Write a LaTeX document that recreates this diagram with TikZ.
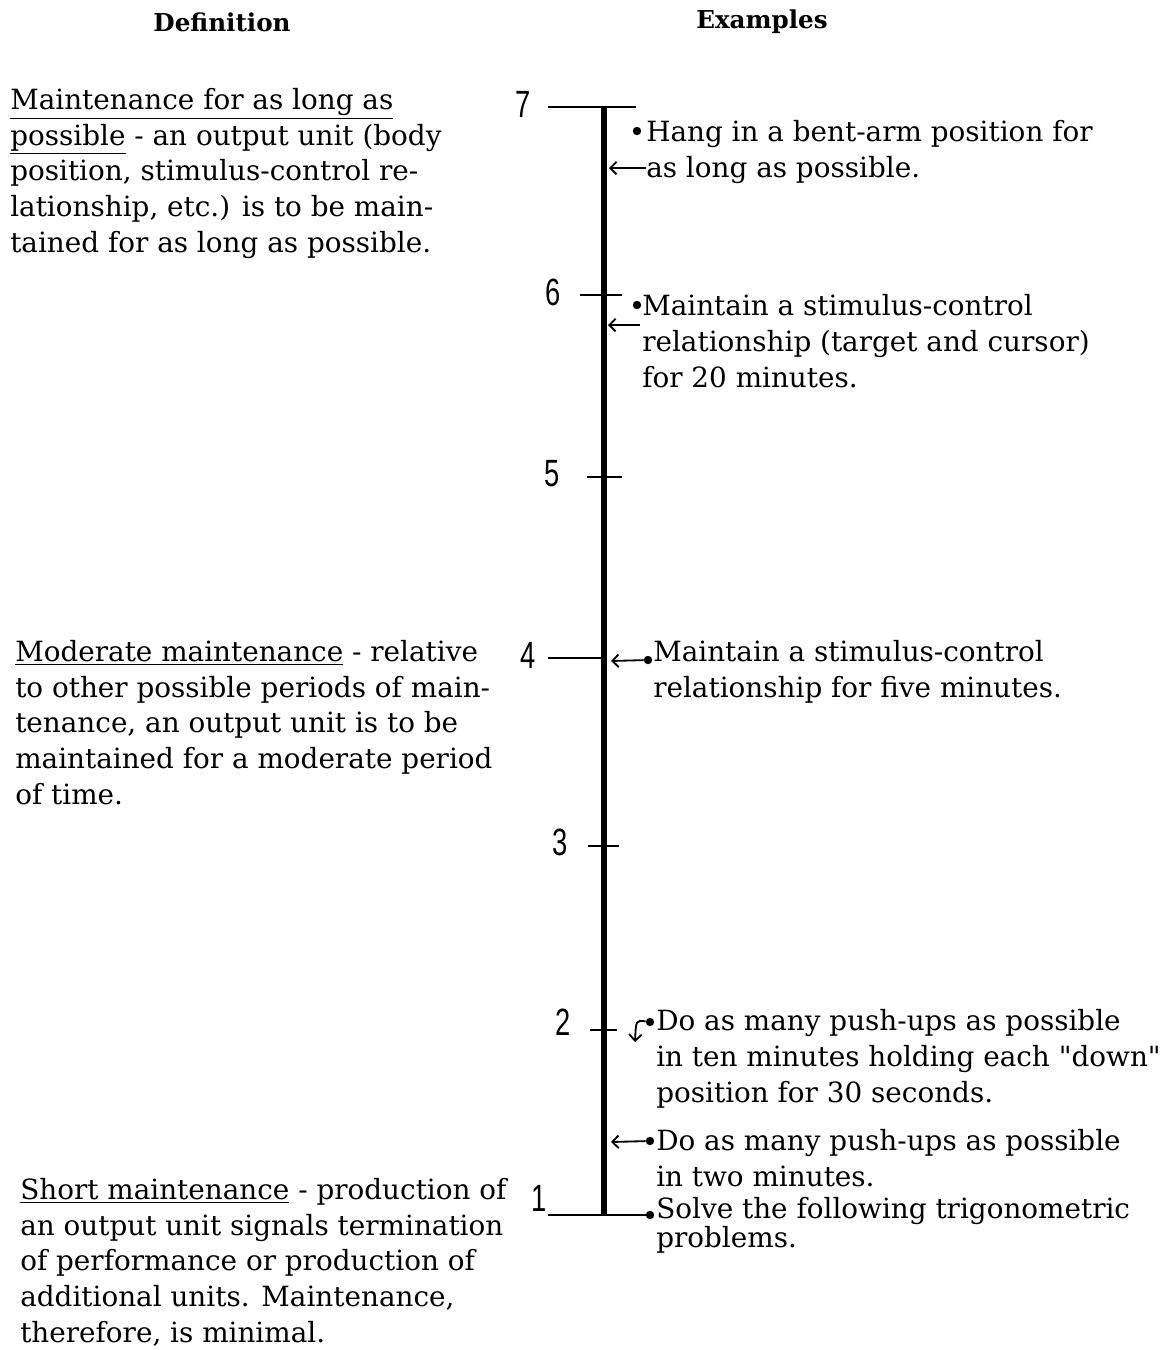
\documentclass[tikz,border=0pt]{standalone}
\usepackage{fontspec}
\setmainfont{DejaVu Serif}
\newfontfamily\numfont{Liberation Sans}
\usepackage{graphicx}
\usepackage{tikz}
\usetikzlibrary{arrows.meta}

\newcommand{\scalenum}[1]{\scalebox{0.72}[1]{\numfont\fontsize{27}{27}\selectfont #1}}
\newcommand{\dquote}{\XeTeXglyph\XeTeXcharglyph34\relax}

\begin{document}
\begin{tikzpicture}[x=0.025cm,y=-0.025cm,
  % base anchor of a multi-line node = baseline of its last line
  txt/.style={anchor=base west,inner sep=0pt,align=left,font=\fontsize{19.8}{25.3}\selectfont},
  tighttxt/.style={txt,font=\fontsize{19.8}{17.8}\selectfont},
  head/.style={inner sep=0pt,font=\fontsize{17.5}{17.5}\selectfont\bfseries},
  num/.style={inner sep=0pt},
  dot/.style={circle,fill=black,inner sep=0pt,minimum size=0.21cm},
  axis/.style={line width=4.2pt},
  tick/.style={line width=1.3pt},
  pointer/.style={line width=1.3pt,-{Straight Barb[length=4.5pt,width=9pt]}}]
\useasboundingbox (0,0) rectangle (1176,1350);

% column heads
\node[head] (hdef) at (222,22) {Definition};
\node[head] (hex) at (762,22) {Examples};

% scale
\coordinate (ax7) at (604,107);
\coordinate (ax1) at (604,1215);
\draw[axis] (ax7) -- (ax1);

\coordinate (t7l) at (548,107);  \coordinate (t7r) at (636,107);
\coordinate (t6l) at (580,295);  \coordinate (t6r) at (622,295);
\coordinate (t5l) at (587,477);  \coordinate (t5r) at (622,477);
\coordinate (t4l) at (548,658);  \coordinate (t4r) at (604,658);
\coordinate (t3l) at (588,846);  \coordinate (t3r) at (619,846);
\coordinate (t2l) at (590,1030); \coordinate (t2r) at (617,1030);
\coordinate (t1l) at (548,1215);
\draw[tick] (t7l) -- (t7r);
\draw[tick] (t6l) -- (t6r);
\draw[tick] (t5l) -- (t5r);
\draw[tick] (t4l) -- (t4r);
\draw[tick] (t3l) -- (t3r);
\draw[tick] (t2l) -- (t2r);

\node[num] (n7) at (523,104) {\scalenum{7}};
\node[num] (n6) at (553,292) {\scalenum{6}};
\node[num] (n5) at (552,474) {\scalenum{5}};
\node[num] (n4) at (528,655) {\scalenum{4}};
\node[num] (n3) at (560,842) {\scalenum{3}};
\node[num] (n2) at (563,1022) {\scalenum{2}};
\node[num] (n1) at (539,1198) {\scalenum{1}};

% definitions
\node[txt] (def7) at (10,252) {\underline{Maintenance for as long as}\\
  \underline{possible} - an output unit (body\\
  position, stimulus-control re-\\
  lationship, etc.) is to be main-\\
  tained for as long as possible.};
\node[txt] (def4) at (15,804) {\underline{Moderate maintenance} - relative\\
  to other possible periods of main-\\
  tenance, an output unit is to be\\
  maintained for a moderate period\\
  of time.};
\node[txt] (def1) at (20,1342) {\underline{Short maintenance} - production of\\
  an output unit signals termination\\
  of performance or production of\\
  additional units. Maintenance,\\
  therefore, is minimal.};

% examples
\node[dot] (b7) at (637,131) {};
\node[txt] (ex7) at (646,177) {Hang in a bent-arm position for\\
  as long as possible.};
\node[dot] (b6) at (637,305) {};
\node[txt] (ex6) at (642,387) {Maintain a stimulus-control\\
  relationship (target and cursor)\\
  for 20 minutes.};
\node[dot] (b4) at (648,660) {};
\node[txt] (ex4) at (653,697) {Maintain a stimulus-control\\
  relationship for five minutes.};
\node[dot] (b2) at (650,1022) {};
\node[txt] (ex2) at (656,1102) {Do as many push-ups as possible\\
  in ten minutes holding each \dquote down\dquote\\
  position for 30 seconds.};
\node[dot] (b1b) at (650,1141) {};
\node[txt] (ex1b) at (656,1186) {Do as many push-ups as possible\\
  in two minutes.};
\node[dot] (b1) at (650,1215) {};
\node[tighttxt] (ex1) at (656,1247) {Solve the following trigonometric\\
  problems.};

% pointers to the scale
\coordinate (p7s) at (646,168);  \coordinate (p7e) at (609,168);
\coordinate (p6s) at (640,325);  \coordinate (p6e) at (608,325);
\coordinate (p4e) at (611,661);
\coordinate (p2e) at (635,1042);
\coordinate (p1be) at (611,1142);
\draw[pointer] (p7s) -- (p7e);
\draw[pointer] (p6s) -- (p6e);
\draw[pointer] (b4) -- (p4e);
\draw[pointer] (b2) .. controls (636,1020) .. (p2e);
\draw[pointer] (b1b) -- (p1be);
\draw[tick] (t1l) -- (b1);
\end{tikzpicture}
\end{document}
